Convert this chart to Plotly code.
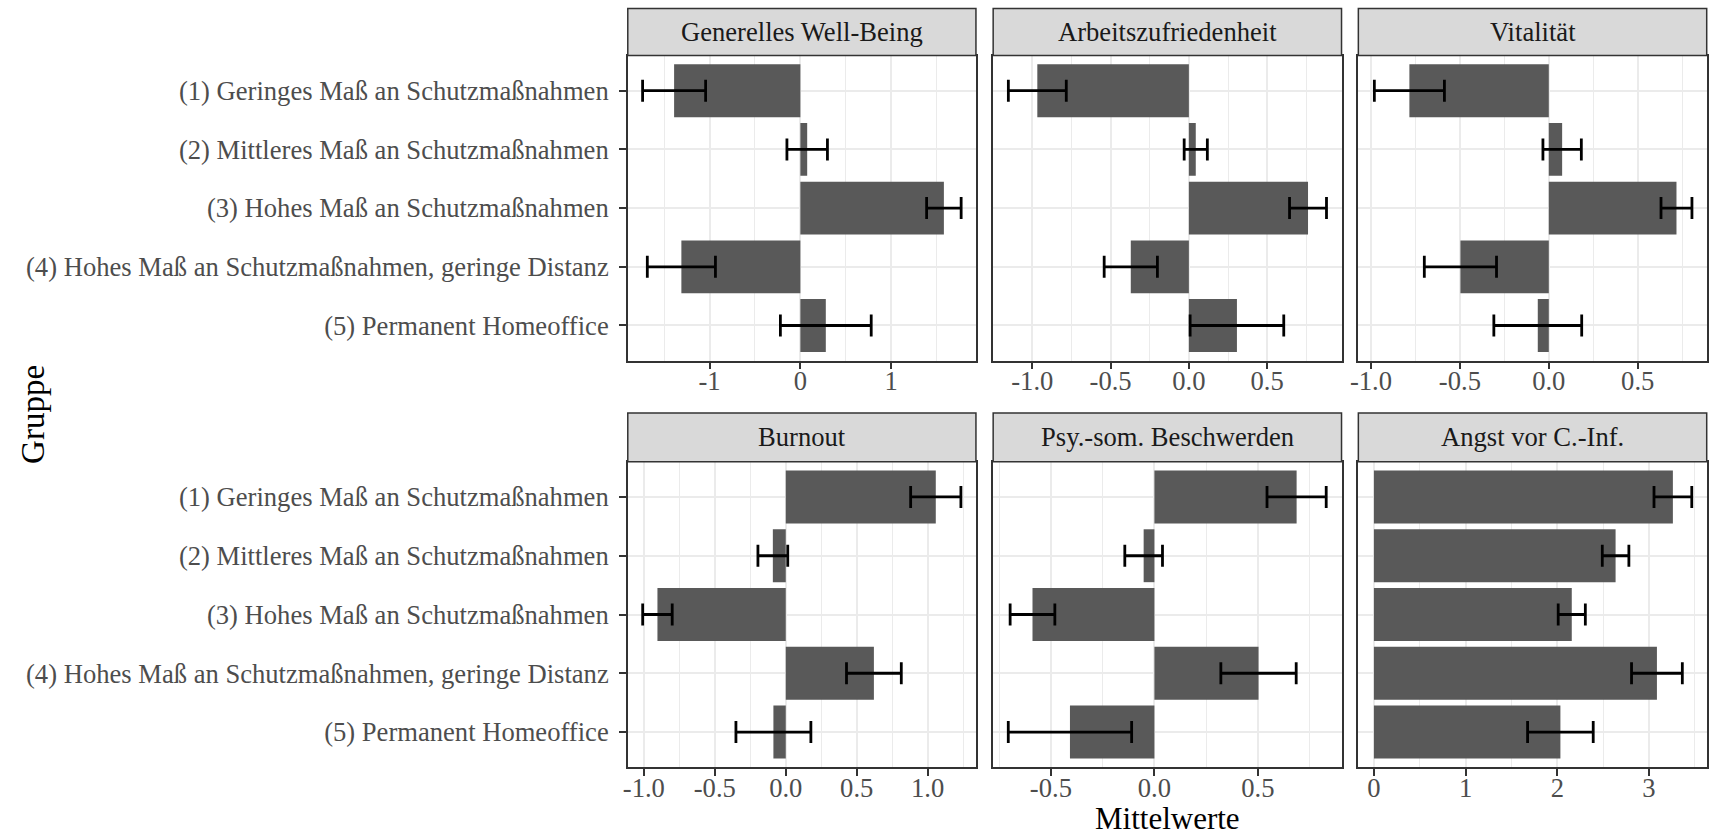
import plotly.graph_objects as go

# ---------------- data ----------------
categories = [
    "(1) Geringes Maß an Schutzmaßnahmen",
    "(2) Mittleres Maß an Schutzmaßnahmen",
    "(3) Hohes Maß an Schutzmaßnahmen",
    "(4) Hohes Maß an Schutzmaßnahmen, geringe Distanz",
    "(5) Permanent Homeoffice",
]

panel_titles = [
    "Generelles Well-Being", "Arbeitszufriedenheit", "Vitalität",
    "Burnout", "Psy.-som. Beschwerden", "Angst vor C.-Inf.",
]

well_being = [-1.39, 0.075, 1.58, -1.31, 0.28]
well_being_err = [0.347, 0.223, 0.19, 0.375, 0.50]

arbeitszufriedenheit = [-0.968, 0.044, 0.761, -0.371, 0.307]
arbeitszufriedenheit_err = [0.185, 0.074, 0.118, 0.170, 0.299]

vitalitaet = [-0.784, 0.075, 0.718, -0.497, -0.062]
vitalitaet_err = [0.197, 0.108, 0.087, 0.203, 0.247]

burnout = [1.057, -0.091, -0.904, 0.621, -0.087]
burnout_err = [0.177, 0.105, 0.104, 0.193, 0.264]

psysom = [0.687, -0.052, -0.589, 0.503, -0.408]
psysom_err = [0.143, 0.091, 0.108, 0.182, 0.298]

angst = [3.261, 2.636, 2.158, 3.087, 2.034]
angst_err = [0.206, 0.145, 0.148, 0.277, 0.358]

values = [well_being, arbeitszufriedenheit, vitalitaet, burnout, psysom, angst]
errors = [well_being_err, arbeitszufriedenheit_err, vitalitaet_err,
          burnout_err, psysom_err, angst_err]

# axis ticks
x_ranges = [(-1.90, 1.933), (-1.25, 0.975), (-1.071, 0.888),
            (-1.113, 1.340), (-0.779, 0.904), (-0.170, 3.63)]
x_major = [[-1, 0, 1], [-1.0, -0.5, 0.0, 0.5], [-1.0, -0.5, 0.0, 0.5],
           [-1.0, -0.5, 0.0, 0.5, 1.0], [-0.5, 0.0, 0.5], [0, 1, 2, 3]]
x_major_text = [["-1", "0", "1"], ["-1.0", "-0.5", "0.0", "0.5"],
                ["-1.0", "-0.5", "0.0", "0.5"],
                ["-1.0", "-0.5", "0.0", "0.5", "1.0"],
                ["-0.5", "0.0", "0.5"], ["0", "1", "2", "3"]]
x_minor = [[-1.5, -0.5, 0.5, 1.5], [-1.25, -0.75, -0.25, 0.25, 0.75],
           [-0.75, -0.25, 0.25, 0.75], [-0.75, -0.25, 0.25, 0.75, 1.25],
           [-0.75, -0.25, 0.25, 0.75], [0.5, 1.5, 2.5, 3.5]]

# ---------------- layout helpers ----------------
W, H = 1709, 836
cols = [(622.7, 972.5), (989.8, 1339.8), (1356.7, 1706.7)]
rows = [(55.5, 360.7), (461.7, 767.3)]
strips = [(8.5, 55.5), (413.0, 461.7)]

FONT = "Liberation Serif"
SMALL = 26.6
BIG = 33
GRID = "#EBEBEB"
DARK = "#333333"


def fx(p):
    return p / W


def fy(p):
    return 1 - p / H


fig = go.Figure()
layout = dict(
    width=W, height=H,
    margin=dict(l=0, r=0, t=0, b=0),
    paper_bgcolor="white", plot_bgcolor="white",
    font=dict(family=FONT, size=SMALL, color="#4D4D4D"),
    showlegend=False,
)
shapes = []
annotations = []

for i in range(6):
    r, c = divmod(i, 3)
    n = i + 1
    xa = "x" if n == 1 else f"x{n}"
    ya = "y" if n == 1 else f"y{n}"
    fig.add_trace(go.Bar(
        x=values[i], y=categories, orientation="h",
        marker=dict(color="#595959", line=dict(width=0)),
        width=0.9,
        error_x=dict(type="data", array=errors[i], color="black",
                     thickness=2.8, width=11),
        xaxis=xa, yaxis=ya, showlegend=False, hoverinfo="x+y",
    ))
    c0, c1 = cols[c]
    r0, r1 = rows[r]
    layout["xaxis" if n == 1 else f"xaxis{n}"] = dict(
        domain=[fx(c0), fx(c1)], anchor=ya,
        range=list(x_ranges[i]),
        tickmode="array", tickvals=x_major[i], ticktext=x_major_text[i],
        ticks="outside", ticklen=7, tickwidth=2, tickcolor=DARK,
        ticklabelstandoff=-11,
        tickfont=dict(family=FONT, size=SMALL, color="#4D4D4D"),
        showgrid=True, gridcolor=GRID, gridwidth=2,
        minor=dict(tickmode="array", tickvals=x_minor[i], showgrid=True,
                   gridcolor=GRID, gridwidth=1, ticks=""),
        showline=True, mirror=True, linecolor=DARK, linewidth=1.5,
        zeroline=False, fixedrange=True,
    )
    layout["yaxis" if n == 1 else f"yaxis{n}"] = dict(
        domain=[fy(r1), fy(r0)], anchor=xa,
        type="category", categoryorder="array", categoryarray=categories,
        range=[4.6, -0.6],
        showticklabels=(c == 0),
        ticks="outside" if c == 0 else "", ticklen=7, tickwidth=2,
        tickcolor=DARK, ticklabelstandoff=5,
        tickfont=dict(family=FONT, size=SMALL, color="#4D4D4D"),
        showgrid=True, gridcolor=GRID, gridwidth=2,
        showline=True, mirror=True, linecolor=DARK, linewidth=1.5,
        zeroline=False, fixedrange=True,
    )
    s0, s1 = strips[r]
    shapes.append(dict(type="rect", xref="paper", yref="paper",
                       x0=fx(c0), x1=fx(c1), y0=fy(s1), y1=fy(s0),
                       fillcolor="#D9D9D9", line=dict(color=DARK, width=1.5),
                       layer="above"))
    annotations.append(dict(text=panel_titles[i], xref="paper", yref="paper",
                            x=fx((c0 + c1) / 2), y=fy((s0 + s1) / 2),
                            xanchor="center", yanchor="middle", showarrow=False,
                            font=dict(family=FONT, size=SMALL, color="#1A1A1A")))

annotations.append(dict(text="Mittelwerte", xref="paper", yref="paper",
                        x=fx(1164.7), y=fy(818.6), xanchor="center",
                        yanchor="middle", borderpad=0, showarrow=False,
                        font=dict(family=FONT, size=31, color="black")))
annotations.append(dict(text="Gruppe", xref="paper", yref="paper",
                        x=fx(25), y=fy(414), xanchor="center", yanchor="middle",
                        textangle=-90, showarrow=False,
                        font=dict(family=FONT, size=BIG, color="black")))

layout["shapes"] = shapes
layout["annotations"] = annotations
fig.update_layout(**layout)
fig.write_html(
    "out.html",
    config={"displayModeBar": False},
    post_script="document.body.style.margin='0px';"
                "document.body.style.overflow='hidden';",
)
